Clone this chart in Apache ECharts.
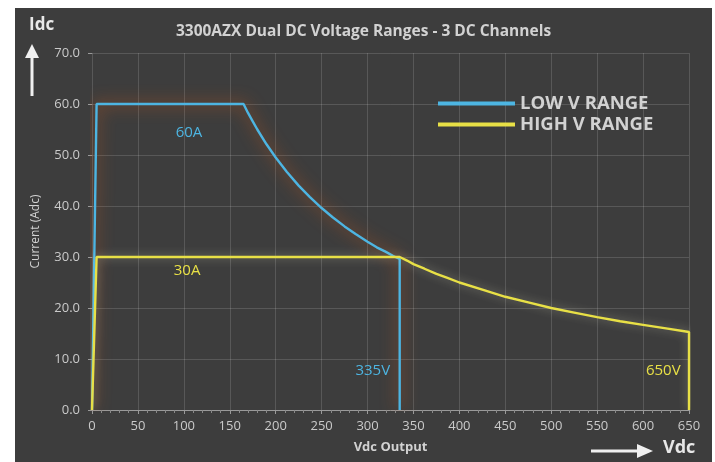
<!DOCTYPE html>
<html><head><meta charset="utf-8">
<script src="https://cdn.jsdelivr.net/npm/echarts@6/dist/echarts.min.js"></script>
<style>
html,body{margin:0;padding:0;background:#fff;width:715px;height:462px;overflow:hidden}
#c{position:absolute;left:15px;top:8px;width:697px;height:454px;background:#3d3d3d}
</style></head><body><div id="c"></div>
<script>
const xTicks = [0,50,100,150,200,250,300,350,400,450,500,550,600,650];
const yTicks = [0,10,20,30,40,50,60,70];
const lowV = [[0,0],[5,60],[165,60],[170,58.2],[175,56.6],[180,55],[190,52.1],[200,49.5],[212,46.7],[225,44],[237,41.8],[250,39.6],[262,37.8],[275,36],[287,34.5],[300,33],[310,31.9],[320,31],[328,30.2],[335,29.6],[335,0]];
const highV = [[0,0],[5,30],[335,30],[343,29.3],[350,28.6],[362,27.7],[375,26.7],[387,25.9],[400,25],[425,23.6],[450,22.2],[475,21.1],[500,20],[525,19.1],[550,18.2],[575,17.4],[600,16.7],[625,16],[650,15.3],[650,0]];
const seriesNames = ['LOW V RANGE','HIGH V RANGE'];
const lowLabels = [{text:'60A',coord:[105.6,54.4]},{text:'335V',coord:[305.7,7.7]}];
const highLabels = [{text:'30A',coord:[103.5,27.3]},{text:'650V',coord:[622,7.7]}];
const blue = '#4db5e2', yellow = '#e8e046', txt = '#d2d2d2';

const chart = echarts.init(document.getElementById('c'));
function mp(list,color){
  return {symbol:'circle',symbolSize:0,silent:true,
    data:list.map(d=>({coord:d.coord,value:d.text,
      label:{show:true,formatter:d.text,color:color,fontSize:15,fontFamily:'Open Sans',position:'inside'}}))};
}
chart.setOption({
  animation:false,
  title:{text:'3300AZX Dual DC Voltage Ranges - 3 DC Channels',left:'center',top:11,
    textStyle:{color:txt,fontSize:15.5,fontWeight:'bold',fontFamily:'Open Sans'}},
  legend:{data:seriesNames,orient:'vertical',left:418,top:81,itemWidth:77,itemHeight:4,itemGap:2,
    icon:'rect',textStyle:{color:txt,fontSize:18.5,lineHeight:19,fontWeight:'bold',fontFamily:'Open Sans'}},
  grid:{left:77,right:23,top:45,bottom:52},
  xAxis:{type:'value',min:0,max:650,interval:50,name:'Vdc Output',nameLocation:'middle',nameGap:31,
    nameTextStyle:{color:txt,fontSize:13,fontWeight:'bold',fontFamily:'Open Sans'},
    axisLine:{show:true,lineStyle:{color:'#9a9a9a'}},
    axisTick:{show:true,length:4,lineStyle:{color:'#9a9a9a'}},
    minorTick:{show:true,splitNumber:5,length:3,lineStyle:{color:'#8a8a8a'}},
    axisLabel:{color:'#cacaca',fontSize:13,fontFamily:'Open Sans',margin:10,
      formatter:v=>xTicks.includes(v)?String(v):''},
    splitLine:{show:true,lineStyle:{color:'rgba(255,255,255,0.14)'}}},
  yAxis:{type:'value',min:0,max:70,interval:10,name:'Current (Adc)',nameLocation:'middle',nameGap:50,
    nameTextStyle:{color:txt,fontSize:12,fontFamily:'Open Sans'},
    axisLine:{show:false},
    axisTick:{show:true,length:4,lineStyle:{color:'#9a9a9a'}},
    axisLabel:{color:'#cacaca',fontSize:13,fontFamily:'Open Sans',margin:12,
      formatter:v=>yTicks.includes(v)?v.toFixed(1):''},
    splitLine:{show:true,lineStyle:{color:'rgba(255,255,255,0.14)'}}},
  series:[
    {name:seriesNames[0],type:'line',data:lowV,symbol:'none',z:3,color:blue,
      lineStyle:{color:blue,width:2.4,shadowColor:'rgba(220,95,25,0.95)',shadowBlur:16},
      markPoint:mp(lowLabels,blue)},
    {name:seriesNames[1],type:'line',data:highV,symbol:'none',z:4,color:yellow,
      lineStyle:{color:yellow,width:2.4,shadowColor:'rgba(255,255,220,0.4)',shadowBlur:10},
      markPoint:mp(highLabels,yellow)}
  ],
  graphic:[
    {type:'text',left:14,top:9,style:{text:'Idc',fill:'#e8e8e8',font:'bold 17px "Open Sans"'}},
    {type:'line',shape:{x1:17,y1:88,x2:17,y2:48},style:{stroke:'#f0f0f0',lineWidth:3}},
    {type:'polygon',shape:{points:[[10,50],[24,50],[17,36]]},style:{fill:'#f0f0f0'}},
    {type:'line',shape:{x1:576,y1:443,x2:626,y2:443},style:{stroke:'#f0f0f0',lineWidth:3}},
    {type:'polygon',shape:{points:[[622,436],[622,450],[638,443]]},style:{fill:'#f0f0f0'}},
    {type:'text',left:648,top:431,style:{text:'Vdc',fill:'#e8e8e8',font:'bold 18px "Open Sans"'}}
  ]
});
</script></body></html>
